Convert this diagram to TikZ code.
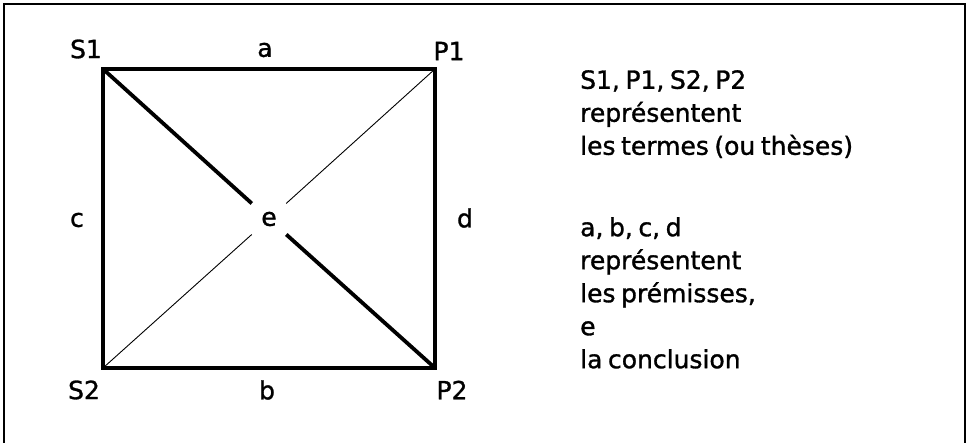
\documentclass[tikz,border=0pt]{standalone}
\usepackage{fontspec}
\setmainfont{DejaVu Sans}
\newfontfamily\labfont[FakeBold=1.2, WordSpace=0.7]{DejaVu Sans}
\usetikzlibrary{positioning}
\tikzset{
  frame/.style  = {line width=2.2pt},
  side/.style   = {line width=3.8pt},
  strong/.style = {line width=3.8pt},
  weak/.style   = {line width=0.9pt},
  lab/.style    = {font=\labfont\fontsize{25}{33}\selectfont, inner sep=0pt},
  gap/.style    = {lab, circle, minimum size=46pt},
  txt/.style    = {lab, align=left, anchor=north west},
}

\begin{document}
\begin{tikzpicture}[x=1pt, y=-1pt]

  \useasboundingbox (0,0) rectangle (967,443);
  \draw[frame] (4,450) |- (965,4) -- (965,450);

  % corners of the square
  \coordinate (cS1) at (103,69);
  \coordinate (cP1) at (435,69);
  \coordinate (cP2) at (435,368);
  \coordinate (cS2) at (103,368);

  \node[gap] (e) at (269,219) {e};

  % sides and diagonals
  \draw[side] (cS1) -- (cP1) -- (cP2) -- (cS2) -- cycle;
  \draw[strong] (cS1) -- (e);
  \draw[strong] (e) -- (cP2);
  \draw[weak] (cS2) -- (e);
  \draw[weak] (e) -- (cP1);

  % labels
  \node[lab] (S1) at (86,49)  {S1};
  \node[lab] (a)  at (265,50) {a};
  \node[lab] (P1) at (449,51) {P1};
  \node[lab] (c)  at (77,220) {c};
  \node[lab] (d)  at (465,218) {d};
  \node[lab] (S2) at (84,390) {S2};
  \node[lab] (b)  at (267,390) {b};
  \node[lab] (P2) at (452,390) {P2};

  % legend
  \node[txt] (terms) at (580,70) {S1, P1, S2, P2\\représentent\\les termes (ou thèses)};
  \node[txt] (prem)  at (580,217) {a, b, c, d\\représentent\\les prémisses,\\e\\la conclusion};

\end{tikzpicture}
\end{document}
